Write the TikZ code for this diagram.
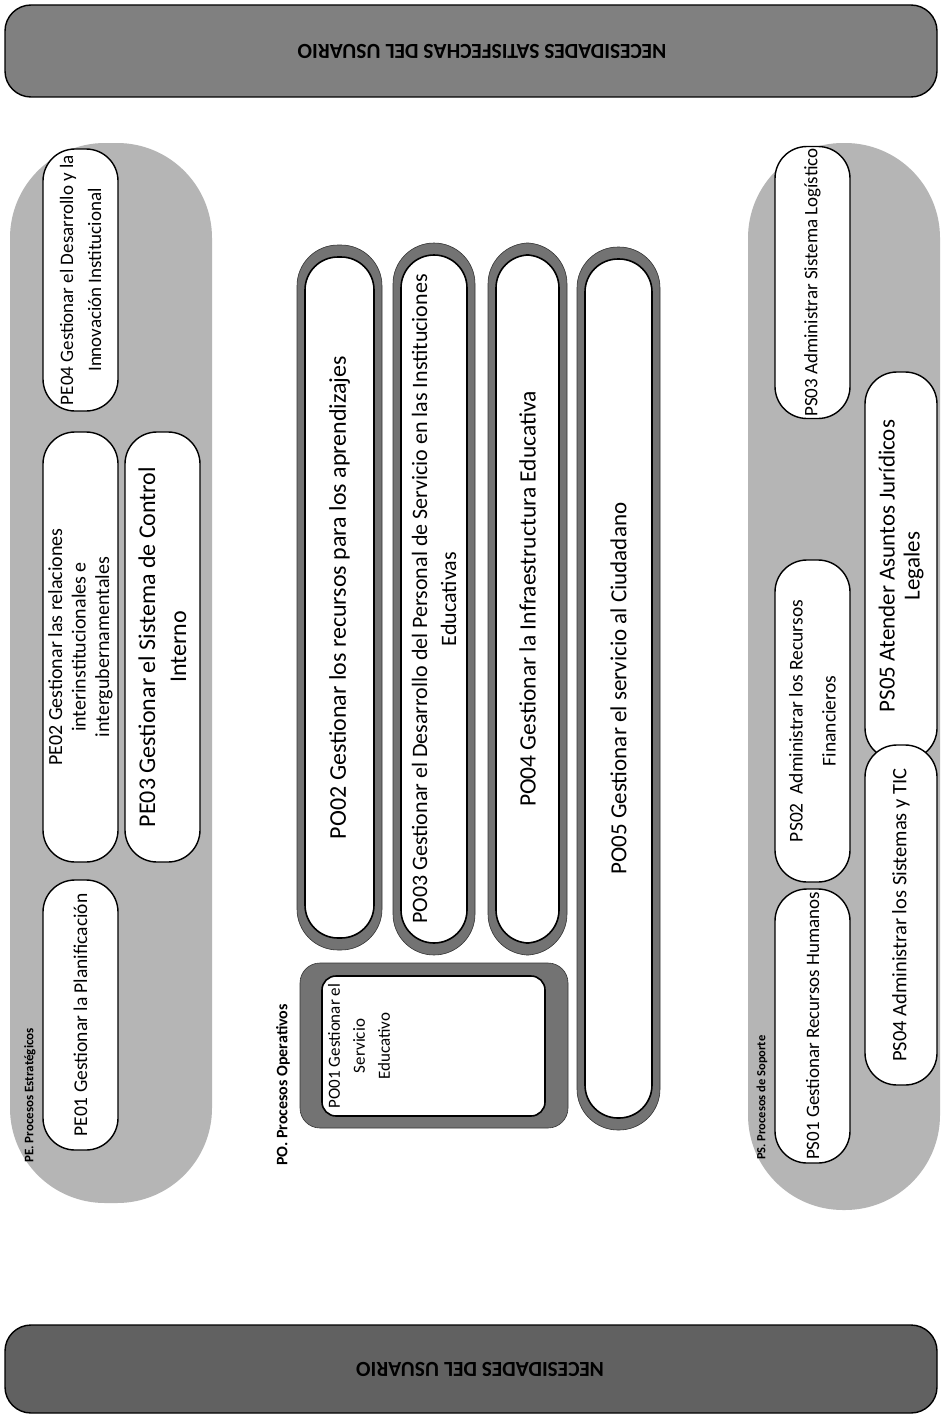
\documentclass[tikz,border=0pt]{standalone}
\usepackage{fontspec}
\setmainfont{Carlito}
\definecolor{bannerA}{gray}{0.50}
\definecolor{bannerB}{gray}{0.38}
\definecolor{grpfill}{gray}{0.71}
\definecolor{bandfill}{gray}{0.45}
\newcommand{\fs}[2]{\fontsize{#1}{#2}\selectfont}
\begin{document}
\begin{tikzpicture}[x=1pt,y=-1pt,
  banner/.style={draw=black, line width=1.4pt, rounded corners=26pt, inner sep=0pt},
  bannertext/.style={rotate=180, font=\bfseries\fs{21.5}{24}},
  grp/.style={fill=grpfill, draw=none, rounded corners=95pt, inner sep=0pt},
  grplabel/.style={rotate=90, anchor=west, inner sep=0pt},
  pbox/.style={draw=black, line width=1.4pt, fill=white, rotate=90, inner sep=1pt, align=center, rounded corners=32pt},
  poband/.style={fill=bandfill, draw=black!80, line width=0.6pt, rotate=90, inner sep=0pt, rounded corners=41pt},
  pobox/.style={draw=black, line width=1.6pt, fill=white, rotate=90, inner sep=1pt, align=center, rounded corners=33pt},
  pobandsq/.style={fill=bandfill, draw=black!80, line width=0.6pt, inner sep=0pt, rounded corners=20pt},
  poboxsq/.style={draw=black, line width=1.6pt, fill=white, inner sep=0pt, rounded corners=14pt},
  potext/.style={rotate=90, align=center, inner sep=0pt, font=\fs{17}{25}},
]
\useasboundingbox (0,0) rectangle (942,1418);
\fill[white] (0,0) rectangle (942,1418);

% banners
\node[banner, fill=bannerA, minimum width=932pt, minimum height=92pt] (topban) at (471,51) {};
\node[bannertext] (toptext) at (482,51) {NECESIDADES SATISFECHAS DEL USUARIO};
\node[banner, fill=bannerB, minimum width=932pt, minimum height=88pt] (botban) at (471,1369) {};
\node[bannertext] (bottext) at (480,1369) {NECESIDADES DEL USUARIO};

% PE group
\node[grp, minimum width=202pt, minimum height=1060pt] (pe) at (111,673) {};
\node[grplabel, font=\bfseries\fs{13}{15}] (pelab) at (30,1163) {PE. Procesos Estratégicos};
\node[pbox, font=\fs{19}{28}, minimum width=262pt, minimum height=75pt] (pe04) at (80.5,280) {PE04 Gestionar el Desarrollo y la\\Innovación Institucional};
\node[pbox, font=\fs{20}{23.5}, minimum width=430pt, minimum height=75pt] (pe02) at (80.5,647) {PE02 Gestionar las relaciones\\interinstitucionales e\\intergubernamentales};
\node[pbox, font=\fs{24}{31}, minimum width=430pt, minimum height=75pt] (pe03) at (162.5,647) {PE03 Gestionar el Sistema de Control\\Interno};
\node[pbox, font=\fs{19.5}{23}, minimum width=270pt, minimum height=75pt] (pe01) at (80.5,1015) {PE01 Gestionar la Planificación};

% PO group
\node[grplabel, font=\bfseries\fs{16}{18}] (polab) at (283,1166) {PO. Procesos Operativos};
\node[pobandsq, minimum width=268pt, minimum height=165pt] (po01o) at (434,1045.5) {};
\node[poboxsq, minimum width=223pt, minimum height=140pt] (po01i) at (433.5,1046) {};
\node[potext] (po01) at (359,1046) {PO01 Gestionar el\\Servicio\\Educativo};

\node[poband, minimum width=705pt, minimum height=85pt] (po02o) at (339.5,597.5) {};
\node[pobox, font=\fs{24}{28}, minimum width=681pt, minimum height=69pt] (po02) at (339.5,597.5) {PO02 Gestionar los recursos para los aprendizajes};
\node[poband, minimum width=712pt, minimum height=82pt] (po03o) at (434,599) {};
\node[pobox, font=\fs{22}{29}, minimum width=688pt, minimum height=66pt] (po03) at (434,599) {PO03 Gestionar el Desarrollo del Personal de Servicio en las Instituciones\\Educativas};
\node[poband, minimum width=712pt, minimum height=79pt] (po04o) at (527.5,599) {};
\node[pobox, font=\fs{23.5}{28}, minimum width=688pt, minimum height=63pt] (po04) at (527.5,599) {PO04 Gestionar la Infraestructura Educativa};
\node[poband, minimum width=883pt, minimum height=83pt] (po05o) at (618.5,688.5) {};
\node[pobox, font=\fs{23}{28}, minimum width=859pt, minimum height=67pt] (po05) at (618.5,688.5) {PO05 Gestionar el servicio al Ciudadano};

% PS group
\node[grp, minimum width=192pt, minimum height=1067pt] (ps) at (844,676.5) {};
\node[grplabel, font=\bfseries\fs{12.5}{14}] (pslab) at (762,1160) {PS. Procesos de Soporte};
\node[pbox, font=\fs{19}{22}, minimum width=272pt, minimum height=75pt] (ps03) at (812.5,282.5) {PS03 Administrar Sistema Logístico};
\node[pbox, font=\fs{23}{25}, minimum width=388pt, minimum height=72pt] (ps05) at (901,566) {PS05 Atender Asuntos Jurídicos\\Legales};
\node[pbox, font=\fs{19.5}{33}, minimum width=322pt, minimum height=75pt] (ps02) at (812.5,721) {PS02\ \ Administrar los Recursos\\Financieros};
\node[pbox, font=\fs{20.5}{24}, minimum width=340pt, minimum height=72pt] (ps04) at (901,915) {PS04 Administrar los Sistemas y TIC};
\node[pbox, font=\fs{19}{21}, minimum width=274pt, minimum height=75pt] (ps01) at (812.5,1026) {PS01 Gestionar Recursos Humanos};
\end{tikzpicture}
\end{document}
